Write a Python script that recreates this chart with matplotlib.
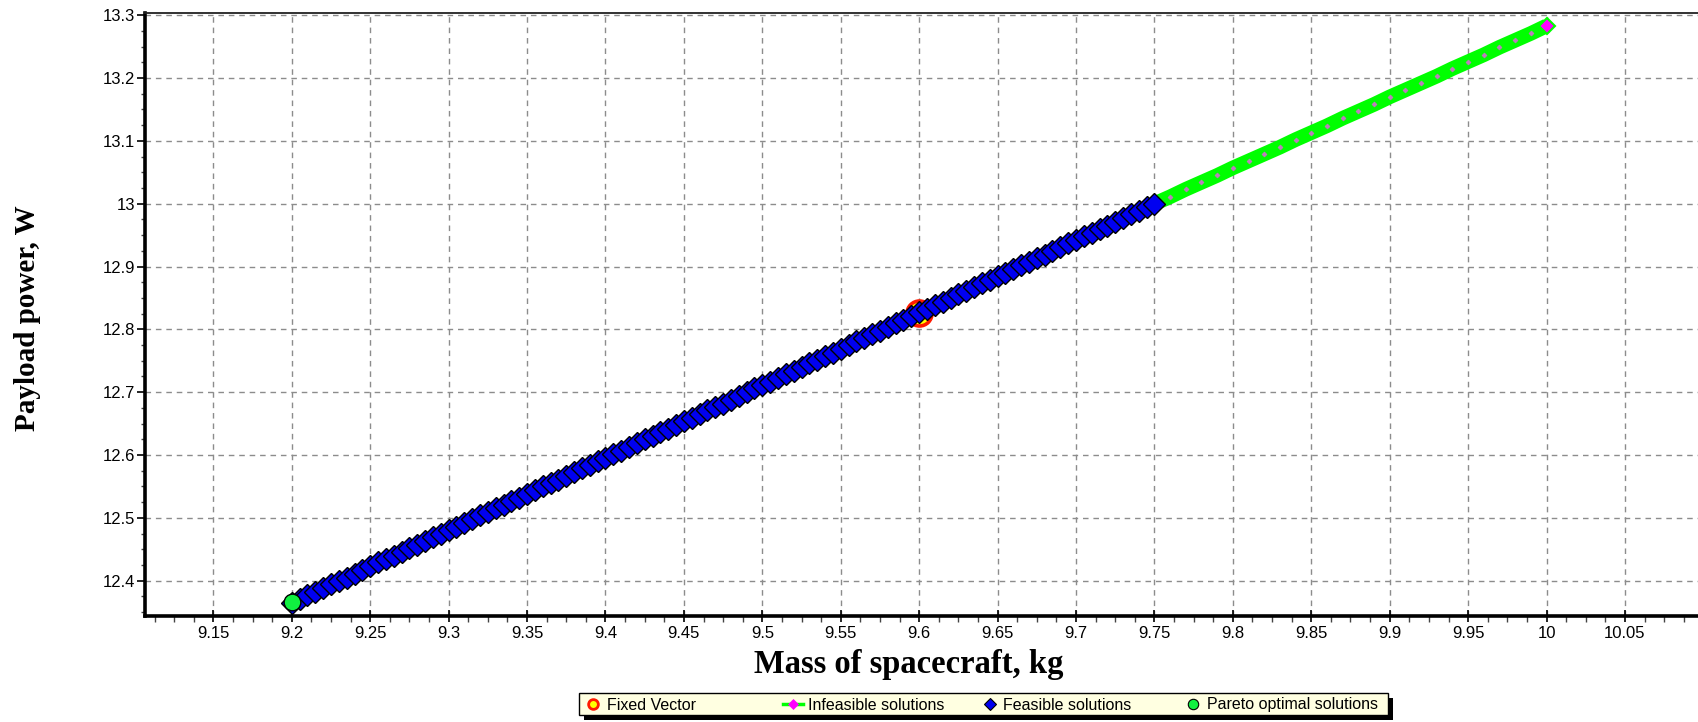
import matplotlib
matplotlib.use("Agg")
import matplotlib.pyplot as plt
from matplotlib.lines import Line2D
from matplotlib.patches import Rectangle
from matplotlib.ticker import MultipleLocator, FuncFormatter

# ---------------- data ----------------
feasible_x = [9.200, 9.205, 9.210, 9.215, 9.220, 9.225, 9.230, 9.235, 9.240, 9.245,
              9.250, 9.255, 9.260, 9.265, 9.270, 9.275, 9.280, 9.285, 9.290, 9.295,
              9.300, 9.305, 9.310, 9.315, 9.320, 9.325, 9.330, 9.335, 9.340, 9.345,
              9.350, 9.355, 9.360, 9.365, 9.370, 9.375, 9.380, 9.385, 9.390, 9.395,
              9.400, 9.405, 9.410, 9.415, 9.420, 9.425, 9.430, 9.435, 9.440, 9.445,
              9.450, 9.455, 9.460, 9.465, 9.470, 9.475, 9.480, 9.485, 9.490, 9.495,
              9.500, 9.505, 9.510, 9.515, 9.520, 9.525, 9.530, 9.535, 9.540, 9.545,
              9.550, 9.555, 9.560, 9.565, 9.570, 9.575, 9.580, 9.585, 9.590, 9.595,
              9.600, 9.605, 9.610, 9.615, 9.620, 9.625, 9.630, 9.635, 9.640, 9.645,
              9.650, 9.655, 9.660, 9.665, 9.670, 9.675, 9.680, 9.685, 9.690, 9.695,
              9.700, 9.705, 9.710, 9.715, 9.720, 9.725, 9.730, 9.735, 9.740, 9.745,
              9.750]
feasible_y = [12.365, 12.371, 12.377, 12.382, 12.388, 12.394, 12.400, 12.405, 12.411, 12.417,
              12.423, 12.429, 12.434, 12.440, 12.446, 12.452, 12.457, 12.463, 12.469, 12.475,
              12.480, 12.486, 12.492, 12.498, 12.504, 12.509, 12.515, 12.521, 12.527, 12.532,
              12.538, 12.544, 12.550, 12.555, 12.561, 12.567, 12.573, 12.579, 12.584, 12.590,
              12.596, 12.602, 12.607, 12.613, 12.619, 12.625, 12.631, 12.636, 12.642, 12.648,
              12.654, 12.659, 12.665, 12.671, 12.677, 12.682, 12.688, 12.694, 12.700, 12.706,
              12.711, 12.717, 12.723, 12.729, 12.734, 12.740, 12.746, 12.752, 12.758, 12.763,
              12.769, 12.775, 12.781, 12.786, 12.792, 12.798, 12.804, 12.810, 12.815, 12.821,
              12.827, 12.833, 12.838, 12.844, 12.850, 12.856, 12.861, 12.867, 12.873, 12.879,
              12.885, 12.890, 12.896, 12.902, 12.908, 12.913, 12.919, 12.925, 12.931, 12.937,
              12.942, 12.948, 12.954, 12.960, 12.965, 12.971, 12.977, 12.983, 12.988, 12.994,
              13.000]

infeasible_x = [9.75, 9.76, 9.77, 9.78, 9.79, 9.80, 9.81, 9.82, 9.83, 9.84, 9.85, 9.86, 9.87,
                9.88, 9.89, 9.90, 9.91, 9.92, 9.93, 9.94, 9.95, 9.96, 9.97, 9.98, 9.99, 10.00]
infeasible_y = [13.000, 13.011, 13.023, 13.034, 13.045, 13.057, 13.068, 13.079, 13.090,
                13.102, 13.113, 13.124, 13.136, 13.147, 13.158, 13.170, 13.181, 13.192,
                13.203, 13.215, 13.226, 13.237, 13.249, 13.260, 13.271, 13.283]

fixed_x = [9.60]
fixed_y = [12.826]

pareto_x = [9.20]
pareto_y = [12.366]

legend_labels = ["Fixed Vector", "Infeasible solutions", "Feasible solutions",
                 "Pareto optimal solutions"]
x_label = "Mass of spacecraft, kg"
y_label = "Payload power, W"

# ---------------- figure ----------------
W, H = 1699, 722
fig = plt.figure(figsize=(W / 100, H / 100), dpi=100)
fig.patch.set_facecolor("white")

def fx(px):
    return px / W

def fy(py):
    return 1 - py / H

ax_left, ax_right, ax_top, ax_bot = 145, 1699, 13, 616
ax = fig.add_axes([fx(ax_left), fy(ax_bot), fx(ax_right - ax_left), (ax_bot - ax_top) / H])
ax.set_facecolor("white")

ax.set_xlim(9.1064, 10.0972)
ax.set_ylim(12.3438, 13.3035)

tick_font = ["Liberation Sans", "DejaVu Sans"]

ax.xaxis.set_major_locator(MultipleLocator(0.05))
ax.xaxis.set_minor_locator(MultipleLocator(0.0125))
ax.yaxis.set_major_locator(MultipleLocator(0.1))
ax.yaxis.set_minor_locator(MultipleLocator(0.025))

def fmt(v, pos):
    s = f"{v:.2f}".rstrip("0").rstrip(".")
    return s

ax.xaxis.set_major_formatter(FuncFormatter(fmt))
ax.yaxis.set_major_formatter(FuncFormatter(fmt))

ax.tick_params(axis="x", which="major", direction="inout", length=9, width=1.2,
               pad=2.5, labelsize=12, colors="black")
ax.tick_params(axis="x", which="minor", direction="out", length=4, width=1.0, color="#444444")
ax.tick_params(axis="y", which="major", direction="out", length=6, width=1.2,
               pad=1, labelsize=12)
ax.tick_params(axis="y", which="minor", direction="out", length=3, width=1.0, color="#444444")
for lab in ax.get_xticklabels() + ax.get_yticklabels():
    lab.set_family(tick_font)

ax.grid(True, which="major", color="#8c8c8c", linestyle=(0, (4, 3.5)), linewidth=1.0)
ax.set_axisbelow(True)

for s in ["left", "bottom"]:
    ax.spines[s].set_linewidth(2.6)
    ax.spines[s].set_color("black")
ax.spines["top"].set_linewidth(1.3)
ax.spines["top"].set_color("#222222")
ax.spines["right"].set_visible(False)

# ---------------- series ----------------
# fixed vector (partly hidden behind feasible band)
ax.plot(fixed_x, fixed_y, ls="none", marker="o", ms=18, mfc="#ffff00", mec="#ff1a00",
        mew=2.6, zorder=3)

# infeasible: green band with faint magenta markers
ax.plot(infeasible_x, infeasible_y, color="#00ff00", lw=10.5, solid_capstyle="butt", zorder=3)
ax.plot(infeasible_x[1:-1], infeasible_y[1:-1], ls="none", marker="D", ms=2.5,
        mfc="#c07cc0", mec="#c07cc0", mew=0.5, zorder=4)
ax.plot(infeasible_x[-1:], infeasible_y[-1:], ls="none", marker="D", ms=8,
        mfc="#ff00ff", mec="#00ff00", mew=1.5, zorder=5)

# feasible: blue diamonds with black edges
ax.plot(feasible_x, feasible_y, ls="none", marker="D", ms=11, mfc="#0000f0",
        mec="black", mew=1.0, zorder=4)

# pareto optimal
ax.plot(pareto_x, pareto_y, ls="none", marker="o", ms=12, mfc="#10f040",
        mec="black", mew=1.0, zorder=6)

# ---------------- axis labels ----------------
lab_font = ["Liberation Serif", "DejaVu Serif"]
fig.text(fx(909), fy(664), x_label, family=lab_font, fontweight="bold", fontsize=23.5,
         ha="center", va="center")
fig.text(fx(28), fy(318), y_label, family=lab_font, fontweight="bold", fontsize=21,
         ha="center", va="center", rotation=90)

# ---------------- legend (drawn by hand) ----------------
bx0, bx1, by0, by1 = 579, 1388, 693, 715
sh = 5
fig.add_artist(Rectangle((fx(bx0 + sh), fy(by1 + sh)), fx(bx1 - bx0), (by1 - by0) / H,
                         transform=fig.transFigure, facecolor="black", edgecolor="black",
                         lw=0, zorder=10))
fig.add_artist(Rectangle((fx(bx0), fy(by1)), fx(bx1 - bx0), (by1 - by0) / H,
                         transform=fig.transFigure, facecolor="#ffffe1", edgecolor="black",
                         lw=1.0, zorder=11))

leg_y = 704
marker_x = [593, 793, 990, 1193]
text_x = [607, 808, 1003, 1207]

handles = [
    dict(marker="o", ms=7, mfc="#ffff00", mec="#ff1a00", mew=2.0),
    dict(marker="D", ms=5.5, mfc="#ff00ff", mec="#ff00ff", mew=0.5),
    dict(marker="D", ms=6, mfc="#0000f0", mec="black", mew=0.8),
    dict(marker="o", ms=7.5, mfc="#10f040", mec="black", mew=0.8),
]
# green line of the infeasible legend symbol
fig.add_artist(Line2D([fx(marker_x[1] - 10), fx(marker_x[1] + 10)], [fy(leg_y), fy(leg_y)],
                      transform=fig.transFigure, color="#00ff00", lw=2.5, zorder=12))
for mx, tx, h, lab in zip(marker_x, text_x, handles, legend_labels):
    fig.add_artist(Line2D([fx(mx)], [fy(leg_y)], transform=fig.transFigure, ls="none",
                          zorder=13, **h))
    fig.text(fx(tx), fy(leg_y + 1), lab, family=tick_font, fontsize=11.5,
             ha="left", va="center", zorder=13)

fig.savefig("out.png", dpi=100, facecolor="white")
